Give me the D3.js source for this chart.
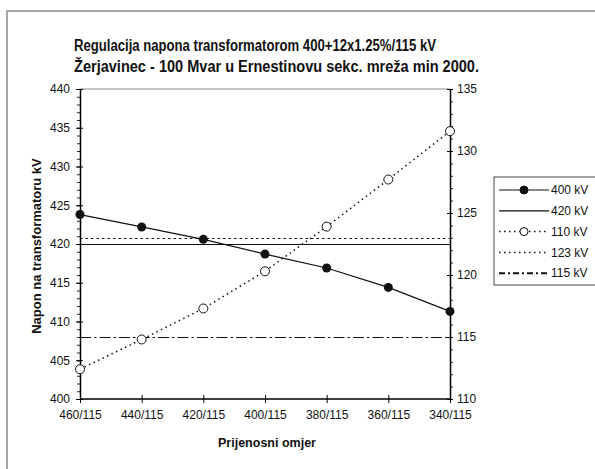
<!DOCTYPE html>
<html>
<head>
<meta charset="utf-8">
<script src="https://cdn.jsdelivr.net/npm/d3@7"></script>
<style>
  body { margin: 0; background: #fff; }
  svg text { font-family: "Liberation Sans", Arial, sans-serif; fill: #111; }
</style>
</head>
<body>
<script>
// chart data
const categories = ["460/115", "440/115", "420/115", "400/115", "380/115", "360/115", "340/115"];
const v400 = [423.8, 422.2, 420.6, 418.7, 416.9, 414.4, 411.3]; // left axis
const v110 = [112.4, 114.8, 117.3, 120.3, 123.9, 127.7, 131.6]; // right axis
const ref420 = 420; // left axis
const ref123 = 123; // right axis
const ref115 = 115; // right axis
const leftTicks = [400, 405, 410, 415, 420, 425, 430, 435, 440];
const rightTicks = [110, 115, 120, 125, 130, 135];
const titleLines = [
  "Regulacija napona transformatorom 400+12x1.25%/115 kV",
  "Žerjavinec - 100 Mvar u Ernestinovu sekc. mreža min 2000."
];

const W = 595, H = 469;
const plot = { left: 80, right: 450, top: 89, bottom: 399 };
const snap = v => Math.round(v) + 0.5;

const svg = d3.select("body").append("svg")
  .attr("width", W).attr("height", H);

// outer frame (runs off the right/bottom edge)
svg.append("rect")
  .attr("x", 7).attr("y", 11).attr("width", 620).attr("height", 500)
  .attr("fill", "none").attr("stroke", "#8a8a8a").attr("stroke-width", 1.5);

// title, left aligned, widths fitted to the reference
svg.selectAll(".title").data(titleLines).enter().append("text")
  .attr("class", "title")
  .attr("x", 74).attr("y", (d, i) => 51 + i * 21)
  .attr("font-size", "16px").attr("font-weight", "bold")
  .attr("textLength", (d, i) => (i === 0 ? 362 : 405))
  .attr("lengthAdjust", "spacingAndGlyphs")
  .text(d => d);

const x = d3.scalePoint().domain(categories).range([plot.left, plot.right]);
const yL = d3.scaleLinear().domain([400, 440]).range([plot.bottom, plot.top]);
const yR = d3.scaleLinear().domain([110, 135]).range([plot.bottom, plot.top]);

// grey top border of plot area
svg.append("line")
  .attr("x1", plot.left).attr("x2", plot.right)
  .attr("y1", plot.top).attr("y2", plot.top)
  .attr("stroke", "#b0b0b0").attr("stroke-width", 1.5);

// left axis: minor ticks then major
svg.append("g")
  .attr("transform", `translate(${plot.left},0)`)
  .call(d3.axisLeft(yL).tickValues(d3.range(400, 441, 1)).tickSize(3).tickFormat(""))
  .call(g => g.select(".domain").remove())
  .call(g => g.selectAll("line").attr("stroke", "#222"));

const gl = svg.append("g")
  .attr("transform", `translate(${plot.left},0)`)
  .call(d3.axisLeft(yL).tickValues(leftTicks).tickSize(4).tickPadding(6).tickSizeOuter(0));
gl.selectAll(".tick line").attr("x1", 3);
gl.selectAll("text").attr("font-size", "12px").attr("font-family", "Liberation Sans, Arial, sans-serif");
gl.select(".domain").attr("stroke-width", 1.5);

// right axis
svg.append("g")
  .attr("transform", `translate(${plot.right},0)`)
  .call(d3.axisRight(yR).tickValues(d3.range(110, 136, 1)).tickSize(3).tickFormat(""))
  .call(g => g.select(".domain").remove())
  .call(g => g.selectAll("line").attr("stroke", "#222"));

const gr = svg.append("g")
  .attr("transform", `translate(${plot.right},0)`)
  .call(d3.axisRight(yR).tickValues(rightTicks).tickSize(3).tickPadding(4).tickSizeOuter(0));
gr.selectAll(".tick line").attr("x1", -3);
gr.selectAll("text").attr("font-size", "12px").attr("font-family", "Liberation Sans, Arial, sans-serif");
gr.select(".domain").attr("stroke-width", 1.5);

// bottom axis
const gb = svg.append("g")
  .attr("transform", `translate(0,${plot.bottom})`)
  .call(d3.axisBottom(x).tickSize(4).tickPadding(7).tickSizeOuter(0));
gb.selectAll(".tick line").attr("y1", -4);
gb.selectAll("text").attr("font-size", "12px").attr("font-family", "Liberation Sans, Arial, sans-serif");
gb.select(".domain").attr("stroke-width", 1.5).attr("d", `M${plot.left},0H${plot.right}`);

// axis titles
svg.append("text")
  .attr("transform", `translate(41,${(plot.top + plot.bottom) / 2 + 2}) rotate(-90)`)
  .attr("text-anchor", "middle")
  .attr("font-size", "13px").attr("font-weight", "bold")
  .text("Napon na transformatoru kV");

svg.append("text")
  .attr("x", 267).attr("y", 447)
  .attr("text-anchor", "middle")
  .attr("font-size", "12.5px").attr("font-weight", "bold")
  .text("Prijenosni omjer");

// reference lines
const refs = [
  { v: ref420, scale: yL, dash: null },
  { v: ref123, scale: yR, dash: "2.5,3" },
  { v: ref115, scale: yR, dash: "11,3,2.5,3" }
];
svg.selectAll(".ref").data(refs).enter().append("line")
  .attr("x1", plot.left).attr("x2", plot.right)
  .attr("y1", d => snap(d.scale(d.v))).attr("y2", d => snap(d.scale(d.v)))
  .attr("stroke", "#111").attr("stroke-width", 1)
  .attr("stroke-dasharray", d => d.dash);

// 400 kV series
const line400 = d3.line().x((d, i) => x(categories[i])).y(d => yL(d));
svg.append("path").datum(v400)
  .attr("d", line400).attr("fill", "none")
  .attr("stroke", "#111").attr("stroke-width", 1.2);
svg.selectAll(".p400").data(v400).enter().append("circle")
  .attr("cx", (d, i) => x(categories[i])).attr("cy", d => yL(d))
  .attr("r", 4.5).attr("fill", "#111");

// 110 kV series
const line110 = d3.line().x((d, i) => x(categories[i])).y(d => yR(d));
svg.append("path").datum(v110)
  .attr("d", line110).attr("fill", "none")
  .attr("stroke", "#111").attr("stroke-width", 1.5)
  .attr("stroke-dasharray", "1.5,3.5");
svg.selectAll(".p110").data(v110).enter().append("circle")
  .attr("cx", (d, i) => x(categories[i])).attr("cy", d => yR(d))
  .attr("r", 4.5).attr("fill", "#fff").attr("stroke", "#111").attr("stroke-width", 1);

// legend
const legendItems = [
  { name: "400 kV", dash: null, marker: "filled", w: 1.2 },
  { name: "420 kV", dash: null, marker: null, w: 1.2 },
  { name: "110 kV", dash: "1.5,3.5", marker: "open", w: 1.5 },
  { name: "123 kV", dash: "1.5,3.5", marker: null, w: 1.5 },
  { name: "115 kV", dash: "6,3,2,3", marker: null, w: 2 }
];
svg.append("rect")
  .attr("x", 494).attr("y", 177).attr("width", 120).attr("height", 108)
  .attr("fill", "#fff").attr("stroke", "#444").attr("stroke-width", 1);

const lg = svg.selectAll(".leg").data(legendItems).enter().append("g")
  .attr("transform", (d, i) => `translate(0,${190 + i * 20.8})`);
lg.append("line")
  .attr("x1", 499).attr("x2", 549)
  .attr("stroke", "#111").attr("stroke-width", d => d.w)
  .attr("stroke-dasharray", d => d.dash);
lg.filter(d => d.marker).append("circle")
  .attr("cx", 524).attr("r", 4)
  .attr("fill", d => (d.marker === "filled" ? "#111" : "#fff"))
  .attr("stroke", "#111");
lg.append("text")
  .attr("x", 551).attr("dy", "0.35em")
  .attr("font-size", "12px")
  .text(d => d.name);
</script>
</body>
</html>
